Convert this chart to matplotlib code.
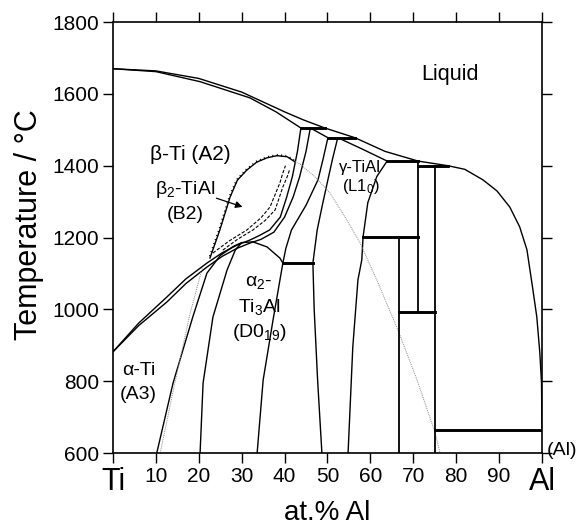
import matplotlib
matplotlib.use("Agg")
import matplotlib.pyplot as plt
import matplotlib.patheffects as pe

plt.rcParams["font.family"] = ["Liberation Sans", "DejaVu Sans"]
plt.rcParams["mathtext.fontset"] = "custom"
plt.rcParams["mathtext.rm"] = "Liberation Sans"
plt.rcParams["mathtext.it"] = "Liberation Sans:italic"

# ---- phase boundaries (at.% Al, deg C) ----
liquidus_x = [0, 10, 20, 30, 40, 44.3, 49.4, 56.4, 63.4, 71.1, 78.1, 82, 86.2,
              89.5, 92.5, 94.8, 96.5, 97.9, 98.8, 99.5, 99.9, 100]
liquidus_t = [1670, 1664, 1643, 1605, 1550, 1528, 1505, 1478, 1440, 1413, 1400,
              1390, 1361, 1330, 1285, 1230, 1166, 1054, 979, 880, 795, 664]

beta_solidus_x = [0, 10, 20.3, 31.9, 38, 43.8]
beta_solidus_t = [1670, 1662, 1634, 1589, 1550, 1505]

alpha_solidus_x = [46, 50.1]
alpha_solidus_t = [1505, 1478]

gamma_solidus_x = [52.4, 58, 63.9]
gamma_solidus_t = [1478, 1447, 1413]

beta_transus_x = [0, 6, 12.6, 17, 21.9, 25.5, 28.9, 31.9, 34, 36.5, 39, 40.5,
                  41.8, 43, 43.8]
beta_transus_t = [882, 962, 1035, 1085, 1129, 1158, 1179, 1193, 1205, 1221,
                  1257, 1313, 1369, 1440, 1505]

alpha_transus_x = [0, 6, 12.6, 17, 21.9, 25.5, 28.9, 32, 34.5, 37.5, 40, 42,
                   43.5, 45, 46]
alpha_transus_t = [882, 955, 1021, 1072, 1118, 1148, 1170, 1185, 1195, 1215,
                   1257, 1313, 1369, 1440, 1505]

alpha_gamma_x = [50.1, 49, 47.8, 45, 41.6, 40.3, 39.6]
alpha_gamma_t = [1478, 1420, 1361, 1290, 1221, 1170, 1129]

gamma_left_x = [52.4, 51.2, 50.1, 48.8, 47.6, 46.6, 46.9, 47.7, 48.7]
gamma_left_t = [1478, 1420, 1361, 1290, 1221, 1129, 1000, 803, 600]

gamma_right_x = [63.9, 61.5, 59.4, 58.3, 58.0, 57.1, 55.9, 54.8]
gamma_right_t = [1413, 1370, 1297, 1202, 1138, 1082, 895, 600]

alpha2_right_x = [39.6, 37.3, 35, 33.6]
alpha2_right_t = [1129, 970, 803, 600]

alpha_alpha2_x = [10.2, 14, 18.6, 21.9, 25, 28, 30, 32.6, 35.9, 38.9, 39.6]
alpha_alpha2_t = [600, 795, 979, 1101, 1150, 1175, 1186, 1188, 1174, 1143, 1129]

alpha2_left_x = [20.3, 21, 23.3, 26.6, 28.5, 30]
alpha2_left_t = [600, 795, 979, 1110, 1165, 1186]

# B2 ordering dome and dashed lines
b2_dome_x = [22.6, 24.9, 27.3, 29, 31.2, 33.5, 35.9, 38.2, 40.6, 42.4]
b2_dome_t = [1143, 1221, 1313, 1360, 1388, 1410, 1422, 1428, 1425, 1411]

b2_dash1_x = [23.3, 27, 31.2, 34.5, 36.6, 38.9, 39.6, 40.2]
b2_dash1_t = [1157, 1190, 1221, 1255, 1285, 1352, 1380, 1400]
b2_dash2_x = [25.6, 29, 32.6, 35.5, 37.8, 39.6, 40.6, 41.2]
b2_dash2_t = [1165, 1195, 1221, 1248, 1277, 1341, 1369, 1390]

# thin grey metastable lines
meta1_x = [11, 14.5, 18, 20.8]
meta1_t = [600, 800, 990, 1115]
meta2_x = [42.4, 43.6, 47, 50.6, 54.5, 57.6, 61.5, 66.4, 70.9, 75.1, 76.2]
meta2_t = [1411, 1405, 1370, 1324, 1249, 1185, 1082, 943, 803, 656, 603]

# invariant (horizontal) lines: (x_start, x_end, T)
invariant_x0 = [43.8, 50.1, 63.9, 71.1, 39.6, 58.3, 66.7, 75.1]
invariant_x1 = [49.4, 56.4, 71.1, 78.1, 46.6, 71.1, 75.1, 100]
invariant_t = [1505, 1478, 1413, 1400, 1129, 1202, 993, 664]

# line compounds (vertical lines): (x, T_low, T_high)
compound_x = [66.7, 71.1, 75.1]
compound_t0 = [600, 993, 600]
compound_t1 = [1202, 1413, 1400]

x_ticks = [0, 10, 20, 30, 40, 50, 60, 70, 80, 90, 100]
x_tick_labels = ["Ti", "10", "20", "30", "40", "50", "60", "70", "80", "90", "Al"]
y_ticks = [600, 800, 1000, 1200, 1400, 1600, 1800]

figure = plt.figure(figsize=(5.84, 5.25), dpi=100)
axis = figure.add_axes([0.1935, 0.137, 0.7345, 0.821])

line_kw = dict(color="black", linewidth=1.0, solid_capstyle="round")

for xs, ts in [
    (liquidus_x, liquidus_t),
    (beta_solidus_x, beta_solidus_t),
    (alpha_solidus_x, alpha_solidus_t),
    (gamma_solidus_x, gamma_solidus_t),
    (beta_transus_x, beta_transus_t),
    (alpha_transus_x, alpha_transus_t),
    (alpha_gamma_x, alpha_gamma_t),
    (gamma_left_x, gamma_left_t),
    (gamma_right_x, gamma_right_t),
    (alpha2_right_x, alpha2_right_t),
    (alpha_alpha2_x, alpha_alpha2_t),
    (alpha2_left_x, alpha2_left_t),
]:
    axis.plot(xs, ts, **line_kw)

axis.plot(
    b2_dome_x,
    b2_dome_t,
    color="black",
    linewidth=1.0,
    path_effects=[pe.withTickedStroke(spacing=3, angle=90, length=0.3, linewidth=0.7)],
)
axis.plot(b2_dash1_x, b2_dash1_t, color="black", linewidth=0.8, linestyle=(0, (3, 1.5)))
axis.plot(b2_dash2_x, b2_dash2_t, color="black", linewidth=0.8, linestyle=(0, (3, 1.5)))

axis.plot(meta1_x, meta1_t, color="0.55", linewidth=0.7, linestyle=(0, (1, 1)))
axis.plot(meta2_x, meta2_t, color="0.55", linewidth=0.7, linestyle=(0, (1, 1)))

for x0, x1, t in zip(invariant_x0, invariant_x1, invariant_t):
    axis.plot([x0, x1], [t, t], color="black", linewidth=2.1)

for x, t0, t1 in zip(compound_x, compound_t0, compound_t1):
    axis.plot([x, x], [t0, t1], color="black", linewidth=1.3)

axis.annotate(
    "",
    xy=(30.8, 1283),
    xytext=(23.5, 1312),
    arrowprops=dict(arrowstyle="-|>", color="black", linewidth=0.9, mutation_scale=10),
)

# region labels
axis.text(78.6, 1655, "Liquid", fontsize=15.5, ha="center", va="center")
axis.text(18, 1430, "β-Ti (A2)", fontsize=15, ha="center", va="center")
axis.text(16.8, 1333, "β$_2$-TiAl", fontsize=14, ha="center", va="center")
axis.text(16.8, 1263, "(B2)", fontsize=14, ha="center", va="center")
axis.text(57.6, 1395, "γ-TiAl", fontsize=12, ha="center", va="center")
axis.text(57.8, 1343, "(L1$_0$)", fontsize=12, ha="center", va="center")
axis.text(34.0, 1076, "α$_2$-", fontsize=14, ha="center", va="center")
axis.text(34.0, 1006, "Ti$_3$Al", fontsize=14, ha="center", va="center")
axis.text(34.0, 937, "(D0$_{19}$)", fontsize=14, ha="center", va="center")
axis.text(6.0, 831, "α-Ti", fontsize=14, ha="center", va="center")
axis.text(6.0, 762, "(A3)", fontsize=14, ha="center", va="center")
axis.text(104.7, 608, "(Al)", fontsize=14, ha="center", va="center", clip_on=False)

axis.set_xlim(0, 100)
axis.set_ylim(600, 1800)
axis.set_xticks(x_ticks)
axis.set_xticklabels(x_tick_labels)
axis.set_yticks(y_ticks)
axis.tick_params(
    direction="out", length=7, width=1.0, labelsize=15,
    top=True, right=True, pad=3,
)
for label in axis.get_xticklabels():
    if label.get_text() in ("Ti", "Al"):
        label.set_fontsize(22)

for spine in axis.spines.values():
    spine.set_linewidth(1.2)

axis.set_xlabel("at.% Al", fontsize=20, labelpad=2)
axis.set_ylabel("Temperature / °C", fontsize=22, labelpad=9)
axis.yaxis.set_label_coords(-0.16, 0.53)

figure.savefig("out.png", dpi=100)
